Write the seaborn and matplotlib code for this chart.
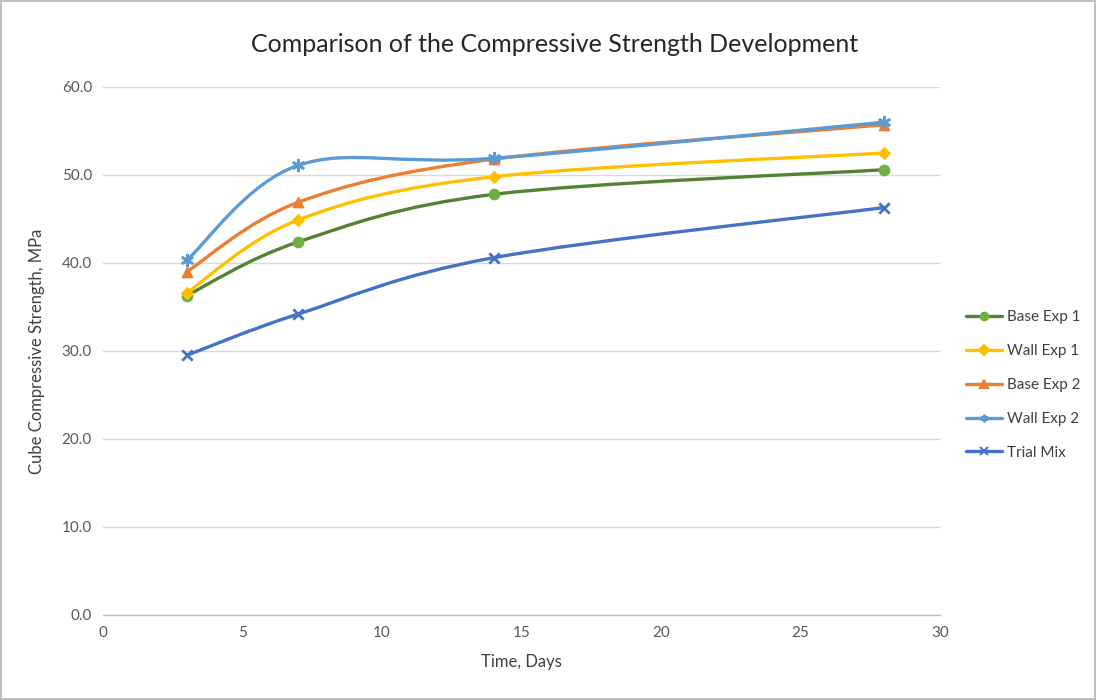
import numpy as np
import pandas as pd
import matplotlib
matplotlib.use("Agg")
import matplotlib.pyplot as plt
from matplotlib.path import Path
from matplotlib.patches import PathPatch
from matplotlib.lines import Line2D
import seaborn as sns

days = [3, 7, 14, 28]
base_exp1 = [36.3, 42.4, 47.8, 50.6]
wall_exp1 = [36.6, 44.9, 49.8, 52.5]
base_exp2 = [39.0, 46.9, 51.8, 55.7]
wall_exp2 = [40.3, 51.1, 51.9, 56.0]
trial_mix = [29.5, 34.2, 40.6, 46.3]

series_names = ["Base Exp 1", "Wall Exp 1", "Base Exp 2", "Wall Exp 2", "Trial Mix"]
series_vals = [base_exp1, wall_exp1, base_exp2, wall_exp2, trial_mix]
line_colors = ["#548235", "#FFC000", "#ED7D31", "#5B9BD5", "#4472C4"]
marker_colors = ["#70AD47", "#FFC000", "#ED7D31", "#5B9BD5", "#4472C4"]
markers = ["o", "D", "^", (6, 2, 0), "x"]
msizes = [55, 35, 55, 60, 55]

sns.set_style("white")
plt.rcParams["font.family"] = ["Lato", "DejaVu Sans"]

fig = plt.figure(figsize=(10.96, 7.0), dpi=100)
fig.patch.set_edgecolor("#BFBFBF")
fig.patch.set_linewidth(1.5)
ax = fig.add_axes([103 / 1096, 1 - 615 / 700, (940 - 103) / 1096, (615 - 87) / 700])


def smooth_path(xs, ys):
    pts = np.column_stack([xs, ys]).astype(float)
    n = len(pts)
    verts = [pts[0]]
    codes = [Path.MOVETO]
    for i in range(n - 1):
        p0 = pts[max(i - 1, 0)]
        p1 = pts[i]
        p2 = pts[i + 1]
        p3 = pts[min(i + 2, n - 1)]
        c1 = p1 + (p2 - p0) / 6.0
        c2 = p2 - (p3 - p1) / 6.0
        verts += [c1, c2, p2]
        codes += [Path.CURVE4] * 3
    return Path(verts, codes)


for name, vals, lc, mc, mk, ms in zip(series_names, series_vals, line_colors,
                                       marker_colors, markers, msizes):
    patch = PathPatch(smooth_path(days, vals), facecolor="none", edgecolor=lc,
                      linewidth=2.4, zorder=3, capstyle="round")
    ax.add_patch(patch)
    df = pd.DataFrame({"Days": days, "Strength": vals})
    if mk in ("x", (6, 2, 0)):
        sns.scatterplot(data=df, x="Days", y="Strength", marker=mk, color=mc,
                        s=ms, linewidth=2, ax=ax, zorder=4)
    else:
        sns.scatterplot(data=df, x="Days", y="Strength", marker=mk, color=mc,
                        s=ms, edgecolor=mc, linewidth=1, ax=ax, zorder=4)

ax.set_xlim(0, 30)
ax.set_ylim(0, 60)
ax.set_xticks(np.arange(0, 31, 5))
ax.set_yticks(np.arange(0, 61, 10))
ax.set_yticklabels([f"{v:.1f}" for v in np.arange(0, 61, 10)])
ax.yaxis.grid(True, color="#D9D9D9", linewidth=1)
ax.xaxis.grid(False)
ax.set_axisbelow(True)
for s in ["top", "right", "left"]:
    ax.spines[s].set_visible(False)
ax.spines["bottom"].set_color("#BFBFBF")
ax.spines["bottom"].set_linewidth(1)
ax.tick_params(axis="both", length=0, labelsize=11, colors="#595959", pad=8)

ax.set_xlabel("Time, Days", fontsize=12, color="#404040", labelpad=10)
ax.set_ylabel("Cube Compressive Strength, MPa", fontsize=12, color="#404040", labelpad=12)
fig.text(555 / 1096, 1 - 45 / 700, "Comparison of the Compressive Strength Development",
         ha="center", va="center", fontsize=18, color="#262626")

handles = [Line2D([0], [0], color=lc, linewidth=2.4, marker=mk, markersize=5.5,
                  markerfacecolor=mc, markeredgecolor=mc, markeredgewidth=1.5)
           for lc, mc, mk in zip(line_colors, marker_colors, markers)]
fig.legend(handles, series_names, loc="center left",
           bbox_to_anchor=(952 / 1096, 1 - 385 / 700), frameon=False,
           fontsize=11, labelspacing=1.3, handlelength=2.4, handletextpad=0.3,
           labelcolor="#404040")

fig.savefig("out.png", dpi=100, edgecolor=fig.get_edgecolor())
